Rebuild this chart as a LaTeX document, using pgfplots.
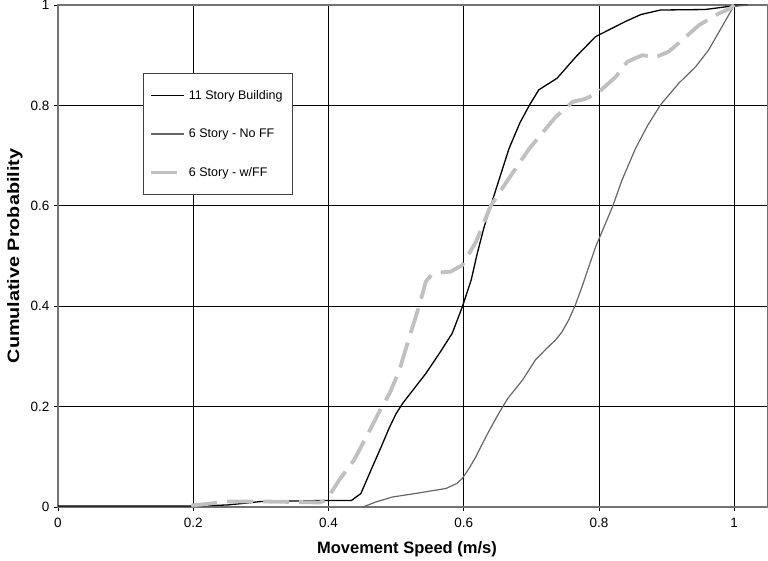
\documentclass[border=0pt]{standalone}
\usepackage{pgfplots}
\pgfplotsset{compat=1.18}
\usepackage{fontspec}
\setmainfont{Liberation Sans}
\definecolor{darkgr}{HTML}{666666}
\definecolor{lightgr}{HTML}{C0C0C0}
\pgfplotsset{shortbar/.style={legend image code/.code={\draw[##1] (0pt,0pt) -- (27pt,0pt);}}}
\begin{document}
\begin{tikzpicture}
\useasboundingbox (-58pt,-53pt) rectangle (710pt,507pt);
\begin{axis}[
  at={(0pt,0pt)}, anchor=south west,
  scale only axis, width=710pt, height=502pt,
  xmin=0, xmax=1.05, ymin=0, ymax=1,
  xtick={0,0.2,0.4,0.6,0.8,1}, ytick={0,0.2,0.4,0.6,0.8,1},
  grid=major, grid style={black, line width=0.8pt},
  axis line style={draw=black!55, line width=1.3pt},
  tick align=outside, major tick length=4pt,
  tick style={black, line width=0.8pt},
  xtick pos=bottom, ytick pos=left,
  /pgf/number format/assume math mode=true,
  ticklabel style={font=\fontsize{13.5}{15}\selectfont},
  xticklabel style={yshift=-4pt},
  yticklabel style={xshift=-1pt},
  xlabel={Movement Speed (m/s)},
  ylabel={\scalebox{1.2}[1]{Cumulative Probability}},
  label style={font=\bfseries\fontsize{16.5}{18}\selectfont},
  xlabel style={at={(axis description cs:0.4915,-0.0837)}, anchor=center},
  ylabel style={at={(axis description cs:-0.0606,0.5)}, anchor=center, rotate=0},
  legend style={at={(axis description cs:0.1197,0.8645)}, anchor=north west,
    draw=black!75, line width=0.8pt, fill=white,
    font=\fontsize{12.5}{14}\selectfont,
    row sep=24pt, inner xsep=6pt, inner ysep=15pt,
    nodes={inner xsep=4pt}},
  legend cell align=left,
  legend image code/.code={\draw[#1] (0pt,0pt) -- (33pt,0pt);},
]
\addplot[black, line width=1.3pt] coordinates {
(0,0.002) (0.2,0.002) (0.25,0.004) (0.28,0.008) (0.3,0.011) (0.35,0.012) (0.391,0.013) (0.434,0.013) (0.448,0.027) (0.463,0.074) (0.478,0.12) (0.49,0.158) (0.5,0.186) (0.51,0.207) (0.525,0.233) (0.544,0.266) (0.564,0.306) (0.583,0.346) (0.598,0.399) (0.611,0.452) (0.620,0.505) (0.63,0.557) (0.64,0.6) (0.652,0.651) (0.667,0.714) (0.683,0.765) (0.697,0.8) (0.711,0.831) (0.738,0.854) (0.766,0.897) (0.795,0.937) (0.839,0.967) (0.862,0.981) (0.891,0.990) (0.957,0.991) (0.997,0.998) (1.0,1.0) (1.02,1.0)
};
\addlegendentry{11 Story Building}
\addplot[darkgr, line width=1.2pt] coordinates {
(0.451,0) (0.47,0.01) (0.495,0.02) (0.529,0.027) (0.574,0.037) (0.59,0.047) (0.598,0.057) (0.608,0.077) (0.618,0.100) (0.628,0.127) (0.638,0.153) (0.652,0.187) (0.665,0.216) (0.687,0.253) (0.706,0.293) (0.722,0.315) (0.736,0.333) (0.745,0.348) (0.755,0.372) (0.765,0.402) (0.775,0.439) (0.795,0.518) (0.820,0.598) (0.834,0.651) (0.854,0.714) (0.872,0.76) (0.891,0.801) (0.918,0.844) (0.943,0.877) (0.962,0.910) (0.982,0.957) (0.999,0.997) (1.02,1.0)
};
\addlegendentry{6 Story - No FF}
\addplot[lightgr, line width=3.8pt, dash pattern=on 26pt off 10pt, shortbar] coordinates {
(0.197,0.003) (0.22,0.006) (0.249,0.011) (0.3,0.011) (0.35,0.01) (0.387,0.009) (0.397,0.014) (0.416,0.054) (0.438,0.094) (0.46,0.15) (0.479,0.2) (0.49,0.225) (0.505,0.273) (0.52,0.34) (0.534,0.4) (0.544,0.449) (0.552,0.462) (0.564,0.467) (0.581,0.469) (0.598,0.482) (0.618,0.528) (0.640,0.600) (0.665,0.651) (0.697,0.714) (0.736,0.777) (0.761,0.807) (0.780,0.813) (0.8,0.827) (0.825,0.857) (0.842,0.887) (0.864,0.900) (0.884,0.896) (0.903,0.907) (0.923,0.930) (0.948,0.960) (0.977,0.983) (0.994,0.993) (1.0,1.0)
};
\addlegendentry{6 Story - w/FF}
\end{axis}
\end{tikzpicture}
\end{document}
